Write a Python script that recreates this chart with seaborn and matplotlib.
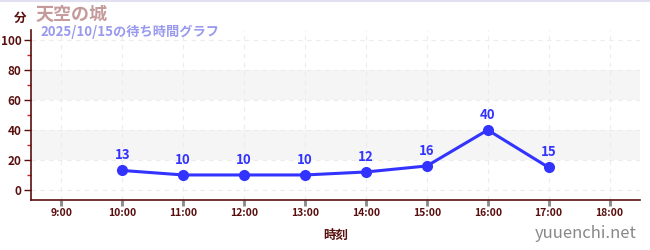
import matplotlib
matplotlib.use("Agg")
import matplotlib.pyplot as plt
import seaborn as sns
import pandas as pd
from matplotlib.ticker import MultipleLocator, FixedLocator

hours = [10, 11, 12, 13, 14, 15, 16, 17]
waits = [13, 10, 10, 10, 12, 16, 40, 15]
tick_hours = [9, 10, 11, 12, 13, 14, 15, 16, 17, 18]
tick_labels = [f"{h}:00" for h in tick_hours]
title = "天空の城"
subtitle = "2025/10/15の待ち時間グラフ"
unit = "分"
xlabel = "時刻"
watermark = "yuuenchi.net"

sns.set_theme(style="white")
plt.rcParams['font.family'] = ['Noto Sans CJK JP', 'DejaVu Sans']

df = pd.DataFrame({"hour": hours, "wait": waits})

fig = plt.figure(figsize=(6.5, 2.5), dpi=100)
ax = fig.add_axes([31/650, 1-200/250, (640-31)/650, 170/250])

maroon = "#5a0f0f"
blue = "#3333ff"

ax.set_xlim(8.5, 18.5)
ax.set_ylim(-6.7, 106.7)

for lo, hi in [(20, 40), (60, 80)]:
    ax.axhspan(lo, hi, color="#f5f5f5", zorder=0, lw=0)

ax.yaxis.set_major_locator(MultipleLocator(20))
ax.yaxis.set_minor_locator(FixedLocator([10, 30, 50, 70, 90]))
ax.xaxis.set_major_locator(FixedLocator(tick_hours))
ax.set_xticklabels(tick_labels)
ax.grid(True, which="major", color="#ececec", linestyle=(0, (4, 4)), linewidth=0.8)

sns.lineplot(data=df, x="hour", y="wait", ax=ax, color=blue, linewidth=2.2,
             marker="o", markersize=8, markeredgewidth=0, zorder=3)

for h, w in zip(hours, waits):
    ax.annotate(str(w), (h, w), xytext=(0, 6), textcoords="offset points",
                ha="center", va="bottom", color=blue, fontsize=9.5, fontweight="bold")

for s in ["top", "right"]:
    ax.spines[s].set_visible(False)
for s in ["left", "bottom"]:
    ax.spines[s].set_color(maroon)
    ax.spines[s].set_linewidth(1.2)

ax.tick_params(axis="y", which="major", length=5, width=1, color=maroon,
               labelcolor=maroon, labelsize=8.5, pad=2, left=True)
ax.tick_params(axis="y", which="minor", length=3, width=1, color="#cc2222", left=True)
ax.tick_params(axis="x", which="major", length=4, width=2, color="#888888",
               labelcolor=maroon, labelsize=7.5, pad=2, bottom=True)
for lbl in ax.get_xticklabels() + ax.get_yticklabels():
    lbl.set_fontweight("bold")
ax.set_xlabel(xlabel, color=maroon, fontsize=9, labelpad=8, fontweight="bold")
ax.set_ylabel("")

fig.text(14/650, 1-18/250, unit, color=maroon, fontsize=9, fontweight="bold", ha="left", va="center")
fig.text(36/650, 1-14/250, title, color="#c49a9a", fontsize=13, fontweight="bold", ha="left", va="center")
fig.text(40/650, 1-32/250, subtitle, color="#9999ee", fontsize=9.5, fontweight="bold", ha="left", va="center")
fig.text(637/650, 1-234/250, watermark, color="#888888", fontsize=12, ha="right", va="center")

fig.add_artist(plt.Line2D([0, 1], [1 - 1/250, 1 - 1/250], color="#e0e0f0", linewidth=1.5,
                          transform=fig.transFigure))

fig.savefig("out.png", dpi=100)
